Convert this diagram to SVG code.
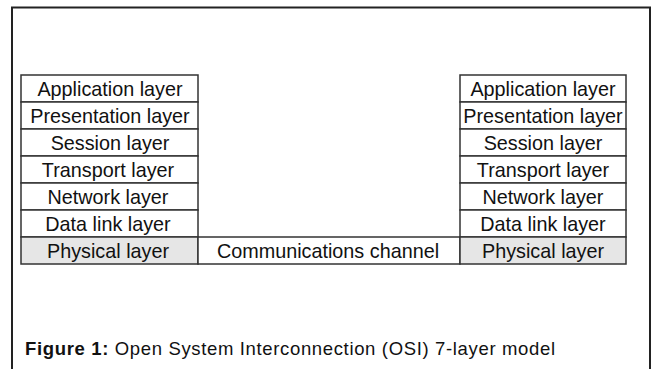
<svg xmlns="http://www.w3.org/2000/svg" width="653" height="369" viewBox="0 0 653 369">
<style>
.cell{fill:#ffffff;stroke:#333333;stroke-width:1.5}
.phys{fill:#e6e6e6;stroke:#333333;stroke-width:1.5}
.t{font-family:"Liberation Sans",Arial,sans-serif;font-size:19.8px;fill:#111111;text-anchor:middle}
.cap{font-family:"Liberation Sans",Arial,sans-serif;font-size:18.5px;fill:#111111}
</style>
<rect width="653" height="369" fill="#ffffff"/>
<path d="M12 369 V7.5 H650 V369" fill="none" stroke="#222222" stroke-width="2"/>
<g id="left-stack">
<g id="l-app"><rect class="cell" x="21" y="75" width="177" height="27"/><text class="t" x="110" y="96">Application layer</text></g>
<g id="l-pres"><rect class="cell" x="21" y="102" width="177" height="27"/><text class="t" x="110" y="123">Presentation layer</text></g>
<g id="l-sess"><rect class="cell" x="21" y="129" width="177" height="27"/><text class="t" x="110" y="150">Session layer</text></g>
<g id="l-trans"><rect class="cell" x="21" y="156" width="177" height="27"/><text class="t" x="108" y="177">Transport layer</text></g>
<g id="l-net"><rect class="cell" x="21" y="183" width="177" height="27"/><text class="t" x="108" y="204">Network layer</text></g>
<g id="l-dl"><rect class="cell" x="21" y="210" width="177" height="27"/><text class="t" x="108" y="231">Data link layer</text></g>
<g id="l-phys"><rect class="phys" x="21" y="237" width="177" height="27"/><text class="t" x="108" y="258">Physical layer</text></g>
</g>
<g id="connectors">
<g id="channel"><rect class="cell" x="198" y="237" width="262" height="27"/><text class="t" x="328" y="258">Communications channel</text></g>
</g>
<g id="right-stack">
<g id="r-app"><rect class="cell" x="460" y="75" width="166" height="27"/><text class="t" x="543" y="96">Application layer</text></g>
<g id="r-pres"><rect class="cell" x="460" y="102" width="166" height="27"/><text class="t" x="543" y="123">Presentation layer</text></g>
<g id="r-sess"><rect class="cell" x="460" y="129" width="166" height="27"/><text class="t" x="543" y="150">Session layer</text></g>
<g id="r-trans"><rect class="cell" x="460" y="156" width="166" height="27"/><text class="t" x="543" y="177">Transport layer</text></g>
<g id="r-net"><rect class="cell" x="460" y="183" width="166" height="27"/><text class="t" x="543" y="204">Network layer</text></g>
<g id="r-dl"><rect class="cell" x="460" y="210" width="166" height="27"/><text class="t" x="543" y="231">Data link layer</text></g>
<g id="r-phys"><rect class="phys" x="460" y="237" width="166" height="27"/><text class="t" x="543" y="258">Physical layer</text></g>
</g>
<text class="cap" x="25" y="355" textLength="530" lengthAdjust="spacing"><tspan font-weight="bold">Figure 1:</tspan> Open System Interconnection (OSI) 7-layer model</text>
</svg>
